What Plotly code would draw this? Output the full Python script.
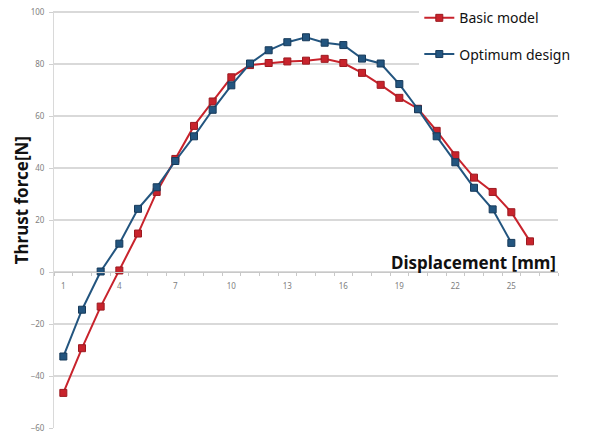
import plotly.graph_objects as go

displacement_basic = list(range(1, 27))
displacement_opt = list(range(1, 26))
basic_model = [-46.5, -29.3, -13.3, 0.6, 14.8, 30.8, 43.5, 56.2, 65.6, 74.9,
               79.6, 80.4, 81.0, 81.3, 82.0, 80.4, 76.6, 72.0, 67.0, 62.8,
               54.3, 44.9, 36.3, 30.8, 23.0, 11.8]
optimum_design = [-32.5, -14.5, 0.2, 10.9, 24.3, 32.6, 42.7, 52.2, 62.4, 71.8,
                  80.2, 85.3, 88.4, 90.3, 88.2, 87.3, 82.1, 80.2, 72.3, 62.6,
                  52.2, 42.2, 32.4, 24.1, 11.2]
x_ticks = [1, 4, 7, 10, 13, 16, 19, 22, 25]
y_ticks = [-60, -40, -20, 0, 20, 40, 60, 80, 100]

RED = "#C8232C"
BLUE = "#23557F"
GRID = "#D9D9D9"

fig = go.Figure()
fig.add_trace(go.Scatter(
    x=displacement_basic, y=basic_model, name="Basic model",
    mode="lines+markers", legendgroup="a",
    line=dict(color=RED, width=2),
    marker=dict(symbol="square", size=7, color=RED, line=dict(color="#9C1A20", width=1)),
))
fig.add_trace(go.Scatter(
    x=displacement_opt, y=optimum_design, name="Optimum design",
    mode="lines+markers", legendgroup="b",
    line=dict(color=BLUE, width=2),
    marker=dict(symbol="square", size=7, color=BLUE, line=dict(color="#173A5A", width=1)),
))

# top gridline (at the upper limit of the y range) drawn explicitly
fig.add_shape(type="line", xref="paper", yref="y", x0=0, x1=1,
              y0=y_ticks[-1], y1=y_ticks[-1], layer="above",
              line=dict(color=GRID, width=1.5))

# page offset of 8px (body margin) is compensated in the figure size/margins
fig.update_layout(
    width=583, height=428,
    margin=dict(l=46, r=33, t=3, b=8, autoexpand=False),
    paper_bgcolor="white", plot_bgcolor="white",
    font=dict(family="Noto Sans, Open Sans, sans-serif", color="#808080"),
    showlegend=True,
    legend=dict(
        x=(419 - 53.7) / 504, y=1.021, xanchor="left", yanchor="top",
        bgcolor="rgba(255,255,255,1)", borderwidth=0,
        font=dict(size=14, color="#111111", family="Noto Sans, sans-serif"),
        itemwidth=30, traceorder="grouped", tracegroupgap=15,
    ),
    xaxis=dict(
        range=[0.5, 27.5], tickmode="array", tickvals=x_ticks,
        ticktext=[str(v) for v in x_ticks],
        anchor="free", position=0.375,
        showgrid=False, zeroline=False,
        showline=True, linecolor="#C8C8C8", linewidth=1,
        ticks="", ticklabelstandoff=7, tickfont=dict(size=8, color="#808080"),
        minor=dict(tickmode="linear", tick0=0.5, dtick=1, ticks="outside",
                   ticklen=3, tickcolor="#C8C8C8"),
    ),
    yaxis=dict(
        range=[-60, 100.4], tickmode="array", tickvals=y_ticks,
        showgrid=True, gridcolor=GRID, gridwidth=1.5,
        zeroline=False, showline=True, linecolor=GRID,
        ticks="outside", ticklen=4, tickcolor="#D0D0D0", ticklabelstandoff=3,
        ticklabeloverflow="allow",
        tickfont=dict(size=8, color="#808080"),
    ),
    annotations=[
        dict(text="<b>Thrust force[N]</b>", textangle=-90,
             xref="paper", yref="paper", x=(22 - 53.7) / 504, y=(428 - 200) / 417,
             xanchor="center", yanchor="middle", showarrow=False,
             font=dict(size=17, color="#111111", family="Noto Sans, sans-serif")),
        dict(text="<b>Displacement [mm]</b>",
             xref="paper", yref="paper", x=1.0, y=(428 - 262) / 417,
             xanchor="right", yanchor="middle", showarrow=False,
             font=dict(size=17, color="#111111", family="Noto Sans, sans-serif")),
    ],
)

fig.write_html("out.html")
